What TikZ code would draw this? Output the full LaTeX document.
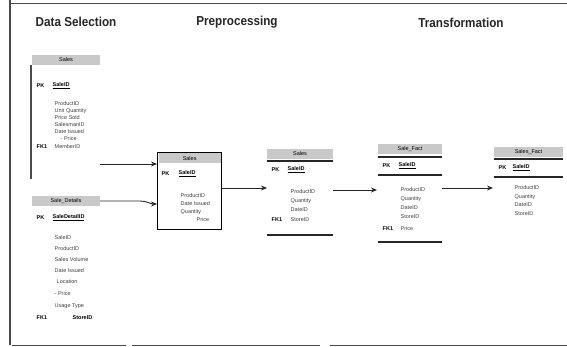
\documentclass[tikz,border=0pt]{standalone}
\usepackage{fontspec}
\usepackage{graphicx}
\setmainfont{Liberation Sans}
\usetikzlibrary{arrows.meta, positioning, calc}
\definecolor{headgray}{HTML}{C9C9C9}
\definecolor{framegray}{HTML}{4A4A4A}

\begin{document}
\begin{tikzpicture}[x=1pt, y=-1pt, >={Stealth[length=6pt, width=5pt]}, font=\fontsize{5.5}{6.5}\selectfont,
  stage/.style={font=\fontsize{13}{15}\selectfont\bfseries, text=black!85},
  tbar/.style={fill=headgray, minimum width=#1, minimum height=10pt, inner sep=0pt},
  fld/.style={anchor=west, inner sep=0.5pt, text=black!75},
  keyl/.style={anchor=west, inner sep=0.5pt, font=\fontsize{5.5}{6.5}\selectfont\bfseries},
  rule/.style={line width=1.4pt, black!85},
  link/.style={->, line width=0.9pt, black!85}]
  \useasboundingbox (0,0) rectangle (567,347);

  % Rahmen
  \draw[framegray, line width=1pt] (10,3.5) -- (567,3.5);
  \draw[framegray, line width=1.3pt] (10,0) -- (10,345);
  \draw[framegray, line width=1pt] (12,345) -- (126,345);
  \draw[framegray, line width=1pt] (132,345) -- (320,345);
  \draw[framegray, line width=1pt] (330,345) -- (567,345);

  % Phasen
  \node[stage] (sel) at (76,22) {\scalebox{0.9}[1]{Data Selection}};
  \node[stage] (pre) at (237,22) {\scalebox{0.9}[1]{Preprocessing}};
  \node[stage] (tra) at (461,23) {\scalebox{0.9}[1]{Transformation}};

  % Tabelle 1 (Data Selection)
  \node[tbar=68pt] (selA) at (66,60) {Sales};
  \draw[framegray, line width=1.5pt] (31,65) -- (31,179);
  \node[keyl] (selApk) at (36,86) {PK};
  \node[keyl] (selAid) at (52,86) {\underline{SaleID}};
  \node[fld] (selA1) at (54,104) {ProductID};
  \node[fld] (selA2) at (54,111) {Unit Quantity};
  \node[fld] (selA3) at (54,118) {Price Sold};
  \node[fld] (selA4) at (54,125) {SalesmanID};
  \node[fld] (selA5) at (54,132) {Date Issued};
  \node[fld] (selA6) at (60,139) {- Price};
  \node[keyl] (selAfk) at (36,147) {FK1};
  \node[fld] (selA7) at (54,147) {MemberID};
  \coordinate (selAout) at (100,164);

  % Tabelle 2 (Data Selection)
  \node[tbar=68pt] (selB) at (66,201) {Sale\_Details};
  \node[keyl] (selBpk) at (36,218) {PK};
  \node[keyl] (selBid) at (52,218) {\underline{SaleDetailID}};
  \node[fld] (selB1) at (54,238) {SaleID};
  \node[fld] (selB2) at (54,249) {ProductID};
  \node[fld] (selB3) at (54,260) {Sales Volume};
  \node[fld] (selB4) at (54,271) {Date Issued};
  \node[fld] (selB5) at (56,282) {Location};
  \node[fld] (selB6) at (54,294) {- Price};
  \node[fld] (selB7) at (54,306) {Usage Type};
  \node[keyl] (selBfk) at (36,318) {FK1};
  \node[keyl] (selB8) at (72,318) {StoreID};

  % Preprocessing
  \node[draw, line width=1.3pt, minimum width=64pt, minimum height=77pt, anchor=north west, inner sep=0pt] (preBox) at (157,152) {};
  \node[tbar=62pt, anchor=north] (preA) at ($(preBox.north)+(0,1)$) {Sales};
  \node[keyl] (preApk) at (161,174) {PK};
  \node[keyl] (preAid) at (178,174) {\underline{SaleID}};
  \node[fld] (preA1) at (180,196) {ProductID};
  \node[fld] (preA2) at (180,204) {Date Issued};
  \node[fld] (preA3) at (180,212) {Quantity};
  \node[fld] (preA4) at (196,220) {Price};
  \coordinate (preIn) at (157,204);

  % Transformation, Schritt 1
  \node[tbar=66pt] (traA) at (300,154) {Sales};
  \draw[rule] (267,161) -- (333,161);
  \node[keyl] (traApk) at (271,170) {PK};
  \node[keyl] (traAid) at (287,170) {\underline{SaleID}};
  \node[fld] (traA1) at (290,192) {ProductID};
  \node[fld] (traA2) at (290,201) {Quantity};
  \node[fld] (traA3) at (290,210) {DateID};
  \node[keyl] (traAfk) at (271,220) {FK1};
  \node[fld] (traA4) at (290,220) {StoreID};
  \draw[rule] (267,235) -- (333,235);
  \coordinate (traAin) at (267,188);

  % Transformation, Schritt 2
  \node[tbar=64pt] (traB) at (410,149) {Sale\_Fact};
  \draw[rule] (378,157) -- (442,157);
  \node[keyl] (traBpk) at (382,166) {PK};
  \node[keyl] (traBid) at (398,166) {\underline{SaleID}};
  \draw[rule] (378,175) -- (442,175);
  \node[fld] (traB1) at (400,190) {ProductID};
  \node[fld] (traB2) at (400,199) {Quantity};
  \node[fld] (traB3) at (400,208) {DateID};
  \node[fld] (traB4) at (400,217) {StoreID};
  \node[keyl] (traBfk) at (382,229) {FK1};
  \node[fld] (traB5) at (400,229) {Price};
  \draw[rule] (378,242) -- (442,242);

  % Transformation, Schritt 3
  \node[tbar=69pt] (traC) at (528.5,152) {Sales\_Fact};
  \draw[rule] (494,159) -- (563,159);
  \node[keyl] (traCpk) at (498,168) {PK};
  \node[keyl] (traCid) at (512,168) {\underline{SaleID}};
  \draw[rule] (494,177) -- (563,177);
  \node[fld] (traC1) at (514,188) {ProductID};
  \node[fld] (traC2) at (514,197) {Quantity};
  \node[fld] (traC3) at (514,205) {DateID};
  \node[fld] (traC4) at (514,214) {StoreID};

  % Verbindungen
  \draw[link] (selAout) -- (selAout -| preBox.west);
  \draw[link] (selB.east) -- (140,201) to[out=0, in=180] (preIn);
  \draw[link] (preBox.east |- traAin) -- (traAin);
  \draw[link] (333,190) -- (traB1.west -| 377,0);
  \draw[link] (442,188) -- (traC1.west -| 493,0);
\end{tikzpicture}
\end{document}
